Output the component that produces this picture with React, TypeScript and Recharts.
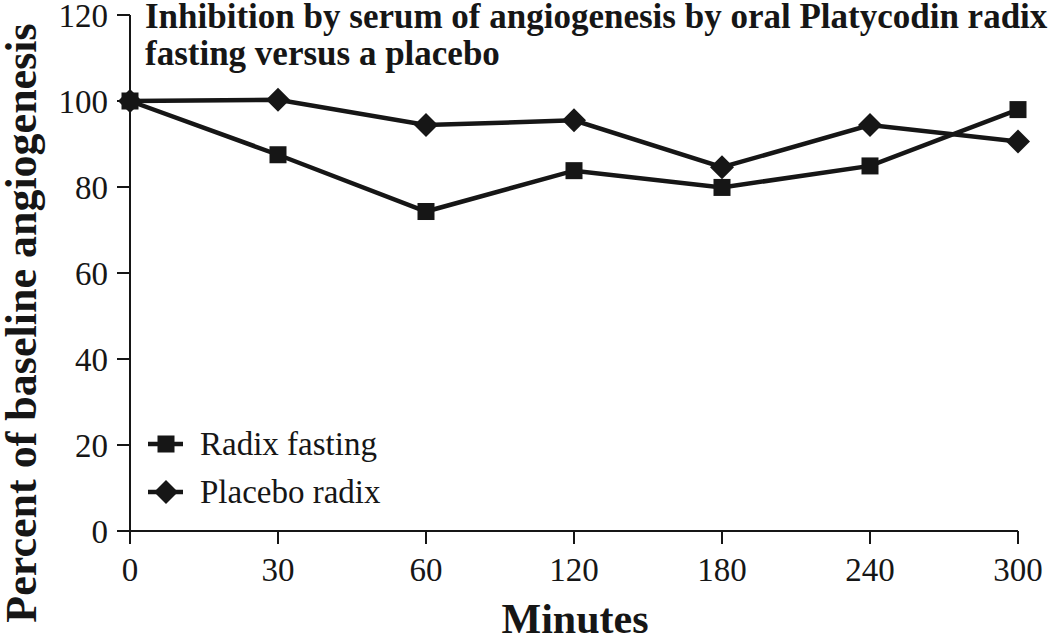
import React from "react";
import { LineChart, Line, XAxis, YAxis, Legend } from "recharts";

const minutes = ["0", "30", "60", "120", "180", "240", "300"];
const radixFasting = [100, 87.5, 74.3, 83.8, 79.9, 84.9, 98.0];
const placeboRadix = [100, 100.3, 94.4, 95.5, 84.6, 94.4, 90.6];
const yTicks = [0, 20, 40, 60, 80, 100, 120];

const titleLines = [
  "Inhibition by serum of angiogenesis by oral Platycodin radix",
  "fasting versus a placebo",
];

const data = minutes.map((m, i) => ({
  minute: m,
  radix: radixFasting[i],
  placebo: placeboRadix[i],
}));

const INK = "#161616";
const FONT = '"Liberation Serif", "DejaVu Serif", serif';

function SquareDot(props: any) {
  const { cx, cy } = props;
  if (cx == null || cy == null) return null;
  return <rect x={cx - 8.5} y={cy - 8.5} width={17} height={17} fill={INK} />;
}

function DiamondDot(props: any) {
  const { cx, cy } = props;
  if (cx == null || cy == null) return null;
  const r = 12;
  return (
    <path
      d={`M${cx},${cy - r}L${cx + r},${cy}L${cx},${cy + r}L${cx - r},${cy}Z`}
      fill={INK}
    />
  );
}

function LegendBox() {
  const items = [
    { label: "Radix fasting", shape: "square" },
    { label: "Placebo radix", shape: "diamond" },
  ];
  return (
    <svg width={330} height={110} style={{ display: "block" }}>
      {items.map((it, i) => {
        const cy = 24 + i * 48;
        return (
          <g key={it.label}>
            <line x1={8} x2={43} y1={cy} y2={cy} stroke={INK} strokeWidth={4.5} />
            {it.shape === "square" ? (
              <SquareDot cx={26} cy={cy} />
            ) : (
              <DiamondDot cx={26} cy={cy} />
            )}
            <text x={60} y={cy + 11} fontFamily={FONT} fontSize={33} fill={INK}>
              {it.label}
            </text>
          </g>
        );
      })}
    </svg>
  );
}

export default function App() {
  return (
    <div
      style={{
        position: "absolute",
        left: 0,
        top: 0,
        width: 1050,
        height: 637,
        background: "#fff",
      }}
    >
      <LineChart
        width={1050}
        height={637}
        data={data}
        margin={{ top: 15, right: 32, bottom: 0, left: 0 }}
      >
        <XAxis
          dataKey="minute"
          height={106}
          tickSize={13}
          tickMargin={14}
          axisLine={{ stroke: INK, strokeWidth: 2 }}
          tickLine={{ stroke: INK, strokeWidth: 2 }}
          tick={{ fill: INK, fontSize: 33, fontFamily: FONT }}
          interval={0}
        />
        <YAxis
          width={130}
          domain={[0, 120]}
          ticks={yTicks}
          tickSize={13}
          tickMargin={9}
          axisLine={{ stroke: INK, strokeWidth: 2 }}
          tickLine={{ stroke: INK, strokeWidth: 2 }}
          tick={{ fill: INK, fontSize: 33, fontFamily: FONT }}
          interval={0}
        />
        <Legend
          layout="vertical"
          align="center"
          verticalAlign="middle"
          content={() => <LegendBox />}
          wrapperStyle={{ left: 140, top: 420, width: 330 }}
        />
        <Line
          dataKey="placebo"
          name="Placebo radix"
          stroke={INK}
          strokeWidth={4.5}
          dot={<DiamondDot />}
          activeDot={false}
          isAnimationActive={false}
        />
        <Line
          dataKey="radix"
          name="Radix fasting"
          stroke={INK}
          strokeWidth={4.5}
          dot={<SquareDot />}
          activeDot={false}
          isAnimationActive={false}
        />
      </LineChart>
      <svg
        width={1050}
        height={637}
        style={{ position: "absolute", left: 0, top: 0, pointerEvents: "none" }}
      >
        {titleLines.map((t, i) => (
          <text
            key={t}
            x={145}
            y={28 + i * 37}
            fontFamily={FONT}
            fontWeight="bold"
            fontSize={35}
            fill={INK}
          >
            {t}
          </text>
        ))}
        <text
          x={575}
          y={633}
          textAnchor="middle"
          fontFamily={FONT}
          fontWeight="bold"
          fontSize={42}
          fill={INK}
        >
          Minutes
        </text>
        <text
          transform="translate(36,323) rotate(-90)"
          textAnchor="middle"
          fontFamily={FONT}
          fontWeight="bold"
          fontSize={44}
          fill={INK}
        >
          Percent of baseline angiogenesis
        </text>
      </svg>
    </div>
  );
}
